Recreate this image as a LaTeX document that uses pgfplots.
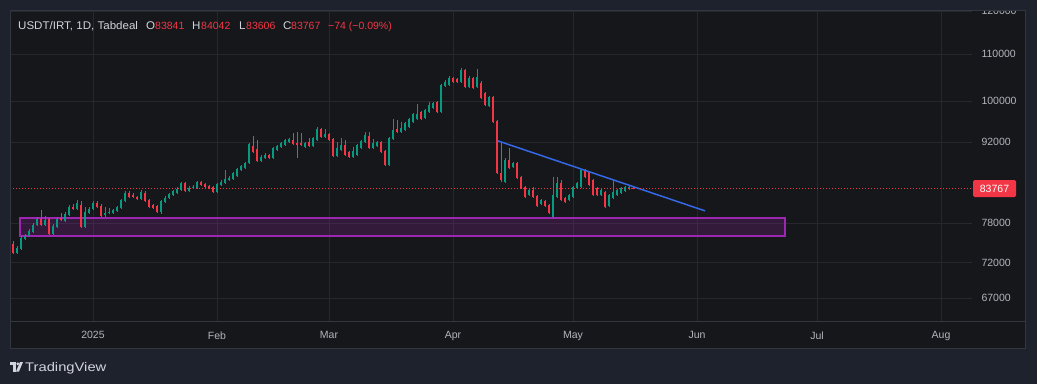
\documentclass[border=0pt]{standalone}
\usepackage{pgfplots}
\pgfplotsset{compat=1.18}
\usepackage{pgfplotstable}
\usepackage{fontspec}
\setmainfont{Liberation Sans}
\definecolor{outerbg}{RGB}{30,34,45}
\definecolor{panelbg}{RGB}{22,23,27}
\definecolor{gridc}{RGB}{38,40,46}
\definecolor{sepc}{RGB}{50,54,64}
\definecolor{tvtext}{RGB}{178,181,190}
\definecolor{tvwhite}{RGB}{209,212,220}
\definecolor{tvred}{RGB}{242,54,69}
\definecolor{tvgreen}{RGB}{8,153,129}
\definecolor{zone}{RGB}{156,39,176}
\definecolor{trend}{RGB}{52,104,230}

\pgfplotstableread{
d o h l c
-20 74800 75260 73300 73450
-19 73450 74500 73300 74200
-18 74040 76030 73890 75720
-17 75570 76340 75410 76030
-16 76030 77120 75870 76800
-15 76650 78060 76490 77740
-14 77740 79010 77580 78690
-13 78690 80140 77580 77740
-12 77740 79170 77580 78530
-11 78690 78850 76180 76340
-10 76340 77900 76180 77580
-9 77430 79010 77270 78690
-8 78850 79650 78370 78530
-7 78370 79820 78220 79490
-6 79330 80960 79170 80630
-5 80630 81120 80140 80300
-4 80300 81780 80140 81290
-3 80960 81620 77270 77430
-2 77430 80630 77270 79820
-1 79650 80630 79490 80300
0 80300 81620 80140 81290
1 81290 81620 80470 80630
2 80800 81120 79010 79170
3 79330 80630 79010 79650
4 79650 80470 79490 79820
5 79650 80300 79490 80140
6 79980 80800 79820 80630
7 80470 81950 80300 81780
8 81620 83290 81450 82960
9 82960 83290 82120 82280
10 82620 82960 82120 82280
11 82280 82450 81780 81950
12 81950 83460 81780 83120
13 82960 83290 81450 81620
14 81780 81950 80470 80630
15 80960 81120 80300 80470
16 80800 80960 79650 79820
17 79820 81780 79490 81620
18 81450 82450 81290 82120
19 82120 82960 81950 82790
20 82620 83460 82450 83290
21 82960 83970 82790 83630
22 83460 84830 83290 84650
23 84650 84830 83120 83290
24 83290 84140 83120 83800
25 83800 84310 83630 83970
26 83800 85000 83630 84830
27 84830 85000 84140 84310
28 84480 84650 83800 83970
29 84140 84310 83630 83800
30 83970 84140 82960 83120
31 83120 84650 82960 84480
32 84310 85170 84140 84830
33 84650 86920 84480 85340
34 85170 85870 85000 85520
35 85340 86570 85170 86390
36 85870 87270 85690 87100
37 86920 87800 86740 87620
38 87270 88340 87100 88160
39 88160 91820 87980 91640
40 91260 93140 89970 90160
41 90710 92380 88340 88520
42 88520 89610 88340 89250
43 89060 89970 88880 89610
44 89610 89790 88880 89060
45 89060 91080 88880 90890
46 90520 91450 90340 91260
47 91080 92010 90890 91820
48 91450 92570 91260 92380
49 92010 92760 91820 92570
50 92380 93710 91450 91640
51 91820 93900 89060 91450
52 91820 93710 91260 91450
53 91080 92010 90890 91820
54 92010 92760 91080 91260
55 91260 92950 91080 92760
56 92380 94850 92190 94470
57 94470 94660 92760 92950
58 92950 94470 92760 93520
59 93520 93710 92190 92380
60 92570 92760 89250 89430
61 89430 92010 89250 90890
62 90520 92760 90340 91450
63 91450 92380 89430 89610
64 90160 90340 89060 89250
65 89250 91080 89060 90340
66 89610 91640 89430 91450
67 90890 92380 90710 92190
68 92010 93900 91820 93330
69 93140 93900 90710 90890
70 90890 92570 90710 91820
71 91260 92190 91080 92010
72 92010 92190 89970 90160
73 90340 90520 87620 87800
74 87800 92950 87620 92760
75 92570 96410 92380 94280
76 94470 96210 93710 93900
77 93900 95820 93710 94660
78 94280 95820 94090 95630
79 94850 96600 94660 96410
80 95820 97590 95630 97390
81 96410 99390 96210 97390
82 97790 97990 96210 96410
83 96600 98390 96410 98190
84 97790 99800 97590 99190
85 98590 99800 98390 99590
86 99800 100000 97590 97790
87 97790 103520 97590 103310
88 103100 104360 102890 103940
89 103310 105220 103100 104790
90 104790 105000 103730 103940
91 104570 104790 103730 103940
92 103940 106940 103730 106500
93 106500 106720 102680 102890
94 102890 105220 102680 104790
95 104790 105000 102470 102680
96 102890 106720 102680 105000
97 103730 104150 100410 100610
98 101640 101850 98990 99190
99 98990 101020 98790 100820
100 100820 101020 95630 95820
101 96020 96210 86220 86390
102 86390 91820 84830 85170
103 84830 89060 84650 88700
104 88700 90890 87100 87270
105 87450 88340 87270 88160
106 88160 88340 85340 85520
107 85690 85870 83630 83800
108 83970 84140 82120 82280
109 82620 83630 82450 83460
110 83460 83970 82120 82280
111 82450 82620 80630 80800
112 81120 81950 80960 81780
113 81620 81780 80630 80800
114 80960 81120 79490 79650
115 79010 85690 78850 82620
116 82280 85690 82120 84650
117 84650 85170 81620 81780
118 82120 82280 81290 81450
119 81780 82790 81620 82620
120 82280 84140 82120 83970
121 83800 84830 83630 84650
122 83970 87100 83800 86920
123 86740 87100 85520 85690
124 86570 86740 84140 84310
125 85170 85340 82450 82620
126 83800 83970 82450 82620
127 82620 83630 82450 83460
128 83120 83290 80470 80630
129 80800 82790 80630 82620
130 82120 85170 81950 83120
131 82620 83630 82450 83460
132 82960 83970 82790 83800
133 83290 84140 83120 83970
134 83630 84310 83460 83970
135 83841 84042 83606 83767
}\candles

\begin{document}
\begin{tikzpicture}
\fill[outerbg] (0pt,0pt) rectangle (1037pt,384pt);
\path[use as bounding box] (0pt,0pt) rectangle (1037pt,384pt);
\fill[panelbg] (10pt,36pt) rectangle (1025pt,374pt);
\draw[sepc, line width=0.8pt] (10pt,63pt) -- (1025pt,63pt);

\pgfplotstablegetrowsof{\candles}
\pgfmathtruncatemacro{\nrows}{\pgfplotsretval-1}

\begin{axis}[
  at={(10pt,63pt)}, anchor=south west,
  scale only axis, width=962pt, height=311pt,
  xmin=-20.75, xmax=219.75,
  ymode=log, ymin=63940, ymax=120320,
  axis line style={draw=none},
  major tick length=0pt,
  xtick={0,31,59,90,120,151,181,212},
  xticklabels={2025,Feb,Mar,Apr,May,Jun,Jul,Aug},
  ytick={67000,72000,78000,92000,100000,110000,120000},
  yticklabels={67000,72000,78000,92000,100000,110000,120000},
  yticklabel pos=right,
  grid=major,
  major grid style={gridc, line width=0.6pt},
  tick label style={font=\fontsize{10.5}{12}\selectfont, text=tvtext},
  yticklabel style={anchor=west, xshift=6pt},
  xticklabel style={anchor=north, yshift=-7pt},
]
\addplot[draw=zone, line width=1.6pt, fill=zone, fill opacity=0.22]
  coordinates {(-18.25,76030) (173,76030) (173,78850) (-18.25,78850)} -- cycle;

\pgfplotsforeachungrouped \i in {0,...,\nrows}{%
  \pgfplotstablegetelem{\i}{d}\of\candles\let\candD\pgfplotsretval
  \pgfplotstablegetelem{\i}{o}\of\candles\let\candO\pgfplotsretval
  \pgfplotstablegetelem{\i}{h}\of\candles\let\candH\pgfplotsretval
  \pgfplotstablegetelem{\i}{l}\of\candles\let\candL\pgfplotsretval
  \pgfplotstablegetelem{\i}{c}\of\candles\let\candC\pgfplotsretval
  \ifnum\candC<\candO\relax\def\candcol{tvred}\else\def\candcol{tvgreen}\fi
  \edef\candcmd{%
    \noexpand\addplot[draw=\candcol, line width=1pt, forget plot] coordinates {(\candD,\candL) (\candD,\candH)};
    \noexpand\addplot[draw=\candcol, line width=2.8pt, forget plot] coordinates {(\candD,\candO) (\candD,\candC)};
  }%
  \candcmd
}

\addplot[trend, line width=1.5pt] coordinates {(101.25,92190) (153,79980)};
\addplot[tvred, line width=0.8pt, dash pattern=on 1pt off 2pt] coordinates {(-20.75,83767) (219.75,83767)};
\end{axis}

% cut what rises above the panel, as in the screenshot
\fill[outerbg] (0pt,374pt) rectangle (1037pt,384pt);
\draw[sepc, line width=0.8pt] (10pt,36pt) rectangle (1025pt,374pt);

% price label
\fill[tvred, rounded corners=1.5pt] (973pt,187pt) rectangle (1016pt,204pt);
\node[white, inner sep=0pt, font=\fontsize{10.5}{12}\selectfont] at (994.5pt,195.5pt) {83767};

% header
\begin{scope}[every node/.style={anchor=base west, inner sep=0pt, font=\fontsize{10.5}{12}\selectfont}]
\node[text=tvwhite] at (18pt,355pt) {\scalebox{1.1}[1.06]{USDT/IRT, 1D, Tabdeal}};
\node[text=tvwhite] at (146pt,355pt) {\scalebox{1.1}[1.06]{O}};
\node[text=tvred] at (155pt,355pt) {83841};
\node[text=tvwhite] at (192pt,355pt) {\scalebox{1.1}[1.06]{H}};
\node[text=tvred] at (201pt,355pt) {84042};
\node[text=tvwhite] at (239pt,355pt) {\scalebox{1.1}[1.06]{L}};
\node[text=tvred] at (246pt,355pt) {83606};
\node[text=tvwhite] at (283pt,355pt) {\scalebox{1.1}[1.06]{C}};
\node[text=tvred] at (291pt,355pt) {83767};
\node[text=tvred] at (328pt,355pt) {−74 (−0.09\%)};
\end{scope}

% TradingView logo
\fill[tvwhite] (10pt,19pt) rectangle (15.5pt,22pt);
\fill[tvwhite] (12.5pt,12.5pt) rectangle (15.5pt,22pt);
\fill[tvwhite] (17.8pt,20.2pt) circle (1.6pt);
\fill[tvwhite] (16pt,12.5pt) -- (19pt,12.5pt) -- (23pt,22pt) -- (20pt,22pt) -- cycle;
\node[text=tvwhite, anchor=base west, inner sep=0pt, font=\fontsize{12.5}{14}\selectfont] at (25pt,12.5pt) {\scalebox{1.18}[1]{TradingView}};
\end{tikzpicture}
\end{document}
